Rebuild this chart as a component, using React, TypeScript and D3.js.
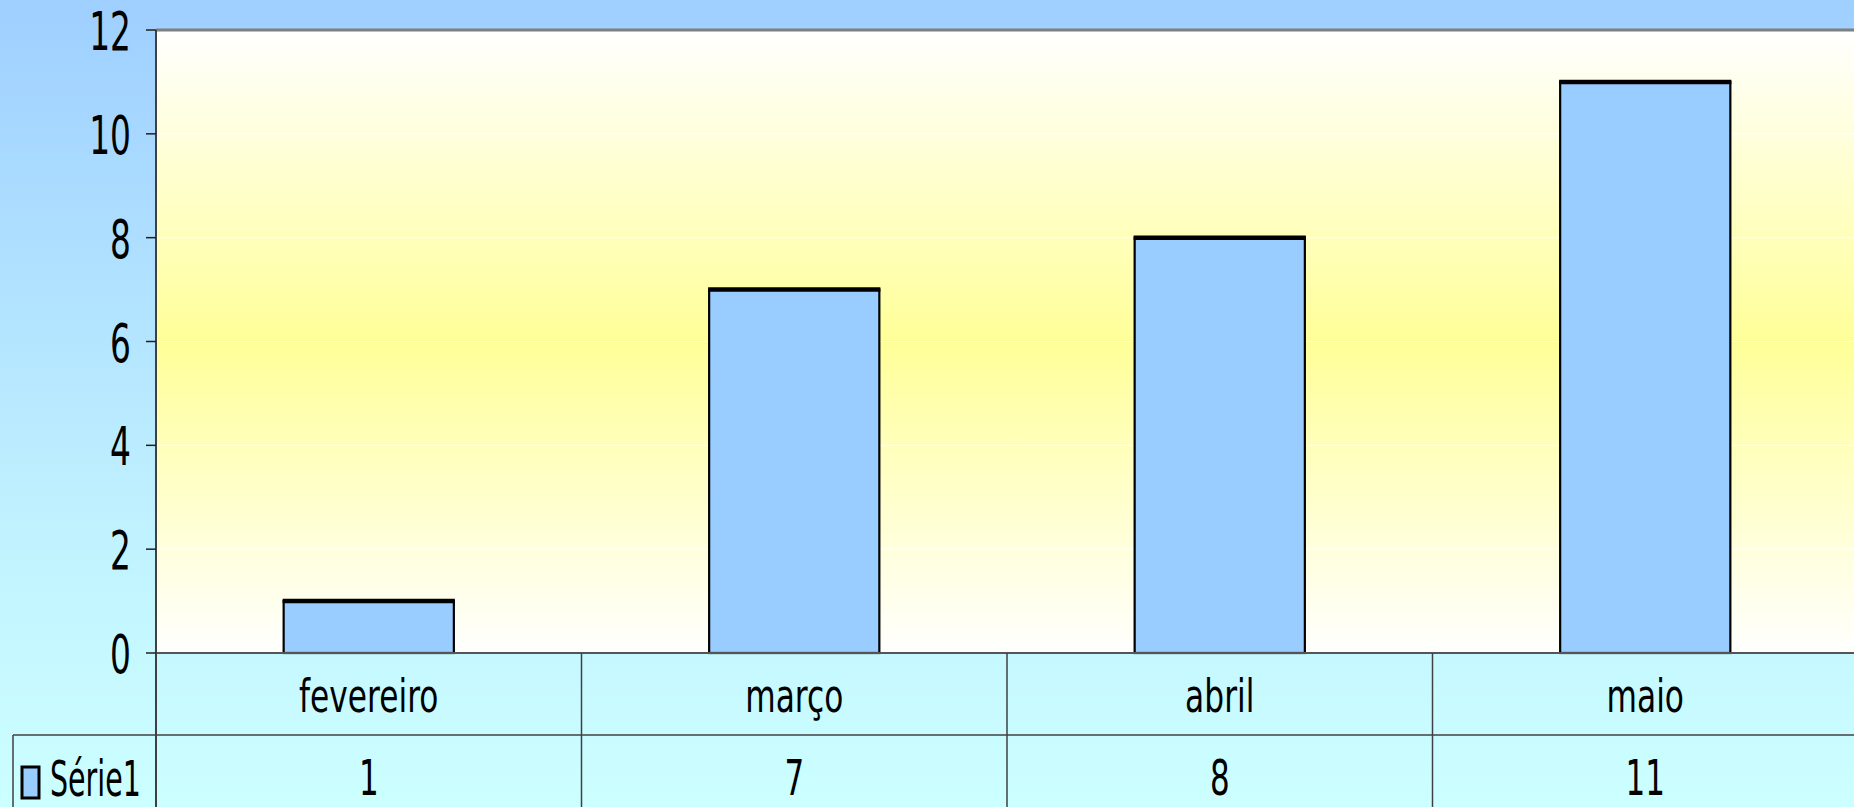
import React, { useEffect } from "react";
import * as d3 from "d3";

const categories = ["fevereiro", "março", "abril", "maio"];
const values = [1, 7, 8, 11];
const yTicks = [0, 2, 4, 6, 8, 10, 12];
const seriesName = "Série1";

const W = 1854;
const H = 807;
const M = { left: 156, right: 1858, top: 30, bottom: 653 };
const rowDivider = 735;
const tableLeft = 13;
const FONT = "'DejaVu Sans', Verdana, sans-serif";

export default function App() {
  useEffect(() => {
    document.body.style.margin = "0";
  }, []);

  const x = d3
    .scaleBand<string>()
    .domain(categories)
    .range([M.left, M.right])
    .paddingInner(0.6)
    .paddingOuter(0.3);
  const col = d3.scaleBand<string>().domain(categories).range([M.left, M.right]);
  const y = d3.scaleLinear().domain([0, 12]).range([M.bottom, M.top]);

  const digitScale = 0.62;
  const catScale = 0.68;

  return (
    <svg
      width={W}
      height={H}
      style={{ position: "absolute", left: 0, top: 0, display: "block" }}
      fontFamily={FONT}
    >
      <defs>
        <linearGradient id="bg" x1="0" y1="0" x2="0" y2="1">
          <stop offset="0%" stopColor="#9FCFFF" />
          <stop offset="70%" stopColor="#C2F4FF" />
          <stop offset="100%" stopColor="#CCFFFF" />
        </linearGradient>
        <linearGradient id="plot" x1="0" y1="0" x2="0" y2="1">
          <stop offset="0%" stopColor="#FFFFFF" />
          <stop offset="50%" stopColor="#FFFF99" />
          <stop offset="100%" stopColor="#FFFFFF" />
        </linearGradient>
      </defs>
      <rect x={0} y={0} width={W} height={H} fill="url(#bg)" />
      <rect x={M.left} y={M.top} width={M.right - M.left} height={M.bottom - M.top} fill="url(#plot)" />

      {/* gridlines */}
      {yTicks.slice(1, -1).map((t) => (
        <line key={"g" + t} x1={M.left} x2={M.right} y1={y(t)} y2={y(t)} stroke="#FFFFFF" strokeWidth={1.2} />
      ))}

      {/* top border */}
      <line x1={M.left} x2={M.right} y1={M.top} y2={M.top} stroke="#808080" strokeWidth={3} />

      {/* bars */}
      {categories.map((c, i) => {
        const bx = x(c)!;
        const bw = x.bandwidth();
        const by = y(values[i]);
        return (
          <g key={c}>
            <rect x={bx} y={by} width={bw} height={M.bottom - by} fill="#99CCFF" stroke="#000" strokeWidth={2.2} />
            <line x1={bx - 1} x2={bx + bw + 1} y1={by} y2={by} stroke="#000" strokeWidth={4.5} />
          </g>
        );
      })}

      {/* zero line */}
      <line x1={M.left} x2={M.right} y1={M.bottom} y2={M.bottom} stroke="#555" strokeWidth={2} />

      {/* y axis */}
      <line x1={M.left} x2={M.left} y1={M.top} y2={H} stroke="#404040" strokeWidth={2} />
      {yTicks.map((t) => (
        <g key={"t" + t}>
          <line x1={M.left - 10} x2={M.left} y1={y(t)} y2={y(t)} stroke="#202020" strokeWidth={1.5} />
          <g transform={`translate(${M.left - 25},${y(t) + 20}) scale(${digitScale},1)`}>
            <text textAnchor="end" fontSize={53} fill="#000">
              {t}
            </text>
          </g>
        </g>
      ))}

      {/* data table */}
      <line x1={tableLeft} x2={M.right} y1={rowDivider} y2={rowDivider} stroke="#404040" strokeWidth={1.5} />
      <line x1={tableLeft} x2={tableLeft} y1={rowDivider} y2={H} stroke="#404040" strokeWidth={1.5} />
      {categories.map((c) => (
        <line
          key={"v" + c}
          x1={col(c)! + col.bandwidth()}
          x2={col(c)! + col.bandwidth()}
          y1={M.bottom}
          y2={H}
          stroke="#404040"
          strokeWidth={1.5}
        />
      ))}
      {categories.map((c) => (
        <g key={"c" + c} transform={`translate(${col(c)! + col.bandwidth() / 2},712) scale(${catScale},1)`}>
          <text textAnchor="middle" fontSize={46} fill="#000">
            {c}
          </text>
        </g>
      ))}
      {categories.map((c, i) => (
        <g key={"n" + c} transform={`translate(${col(c)! + col.bandwidth() / 2},795) scale(${digitScale},1)`}>
          <text textAnchor="middle" fontSize={50} fill="#000">
            {values[i]}
          </text>
        </g>
      ))}

      {/* legend key */}
      <rect x={22} y={767} width={17} height={31} fill="#99CCFF" stroke="#000" strokeWidth={3} />
      <g transform={`translate(50,796) scale(0.57,1)`}>
        <text textAnchor="start" fontSize={50} fill="#000">
          {seriesName}
        </text>
      </g>
    </svg>
  );
}
